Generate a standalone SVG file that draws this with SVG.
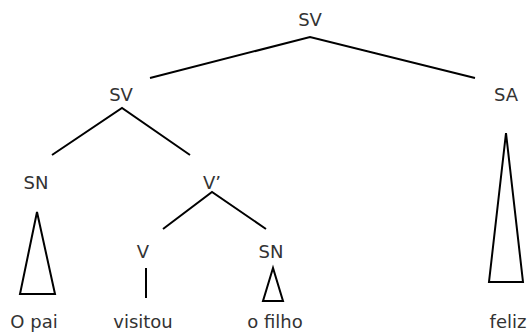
<svg xmlns="http://www.w3.org/2000/svg" width="528" height="333" viewBox="0 0 528 333">
<style>
text{font-family:"DejaVu Sans",Verdana,sans-serif;font-size:18px;fill:#333;text-anchor:middle}
.e{stroke:#000;stroke-width:2;fill:none}
</style>
<rect width="528" height="333" fill="#fff"/>
<g id="n-sv-top"><text x="310" y="26">SV</text></g>
<g id="n-sv"><text x="121" y="101">SV</text></g>
<g id="n-sa"><text x="506" y="101">SA</text></g>
<g id="n-sn1"><text x="36" y="189">SN</text></g>
<g id="n-vbar"><text x="212" y="189">V’</text></g>
<g id="n-v"><text x="143" y="258">V</text></g>
<g id="n-sn2"><text x="271" y="258">SN</text></g>
<g id="n-opai"><text x="34" y="328">O pai</text></g>
<g id="n-visitou"><text x="143" y="328">visitou</text></g>
<g id="n-ofilho"><text x="275" y="328">o filho</text></g>
<g id="n-feliz"><text x="508" y="328">feliz</text></g>
<g id="connectors" class="e">
<polyline class="e" points="150,78 310,37 475,78"/>
<polyline class="e" points="52,155 122,108 190,155"/>
<polyline class="e" points="163,229 212,192 266,229"/>
<line class="e" x1="146" y1="268" x2="146" y2="298"/>
<polygon class="e" points="37,212 20,294 55,294"/>
<polygon class="e" points="273,268 263,301 283,301"/>
<polygon class="e" points="506,133 489,282 523,282"/>
</g>
</svg>
